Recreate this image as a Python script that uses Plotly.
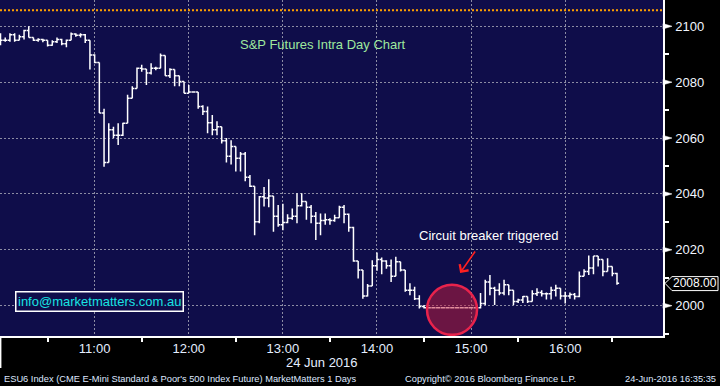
import plotly.graph_objects as go
import pandas as pd

# ---------------- data (3-minute bars, ESU6, 24 Jun 2016) ----------------
bar_start = "2016-06-24 10:00"
bar_count = 132
times = pd.date_range(bar_start, periods=bar_count, freq="3min")

opens = [
    2095.5, 2095.0, 2095.0, 2097.0, 2095.0, 2096.25, 2098.5, 2096.0, 2095.0, 2095.25,
    2095.0, 2093.25, 2094.5, 2095.25, 2093.75, 2095.0, 2097.25, 2096.75, 2097.0, 2095.0,
    2089.75, 2087.0, 2069.0, 2051.25, 2063.0, 2061.0, 2061.0, 2065.25, 2074.25, 2077.75,
    2085.0, 2084.75, 2083.25, 2085.0, 2085.0, 2089.5, 2082.25, 2084.5, 2082.25, 2080.25,
    2076.0, 2076.5, 2076.5, 2071.25, 2069.5, 2065.5, 2063.0, 2064.0, 2059.0, 2053.5,
    2057.0, 2052.75, 2054.25, 2046.0, 2042.75, 2030.0, 2039.0, 2038.5, 2039.25, 2032.0,
    2029.0, 2029.75, 2031.25, 2032.0, 2035.75, 2037.25, 2035.25, 2032.0, 2029.5, 2030.5,
    2030.75, 2030.5, 2031.5, 2035.25, 2032.75, 2028.0, 2016.0, 2012.75, 2003.5, 2007.0,
    2014.25, 2016.5, 2016.0, 2014.25, 2010.5, 2015.75, 2012.75, 2005.5, 2005.5, 2002.5,
    1999.75, 1999.25, 1999.25, 1999.25, 1999.25, 1999.25, 1999.25, 1999.25, 1999.25, 1999.25,
    1999.25, 1999.25, 1999.25, 2000.75, 2008.5, 2006.25, 2005.5, 2004.5, 2007.5, 2005.5,
    2001.5, 2002.0, 2003.25, 2001.5, 2004.25, 2004.75, 2004.25, 2004.25, 2005.5, 2006.25,
    2003.5, 2003.5, 2004.0, 2003.25, 2010.5, 2012.25, 2013.5, 2017.75, 2016.5, 2012.25,
    2014.0, 2011.5,
]
highs = [
    2097.5, 2096.0, 2097.5, 2097.5, 2097.0, 2098.75, 2100.0, 2096.0, 2095.75, 2095.5,
    2095.0, 2095.0, 2096.0, 2095.5, 2095.25, 2097.75, 2097.5, 2097.5, 2097.25, 2095.0,
    2090.0, 2087.0, 2070.5, 2065.25, 2064.0, 2065.25, 2065.5, 2075.5, 2078.5, 2085.25,
    2086.25, 2084.75, 2086.75, 2085.5, 2090.25, 2089.5, 2085.0, 2084.5, 2082.25, 2080.25,
    2079.0, 2076.75, 2076.5, 2071.75, 2071.25, 2068.25, 2066.0, 2064.0, 2060.0, 2059.25,
    2057.0, 2055.0, 2055.0, 2046.75, 2042.75, 2039.25, 2042.5, 2045.25, 2039.25, 2036.0,
    2036.5, 2032.75, 2034.75, 2040.25, 2040.25, 2037.25, 2036.0, 2033.5, 2033.0, 2033.0,
    2031.25, 2032.5, 2035.75, 2036.0, 2033.0, 2028.25, 2016.0, 2012.75, 2007.75, 2016.25,
    2019.0, 2017.25, 2016.25, 2016.5, 2017.5, 2015.75, 2012.75, 2008.0, 2006.75, 2003.75,
    2000.25, 1999.5, 1999.5, 1999.5, 1999.5, 1999.5, 1999.5, 1999.5, 1999.5, 1999.5,
    1999.5, 1999.5, 2004.5, 2009.25, 2011.0, 2006.75, 2008.0, 2009.25, 2007.5, 2005.5,
    2002.5, 2003.5, 2003.25, 2005.5, 2006.25, 2005.5, 2004.75, 2006.75, 2007.5, 2006.25,
    2005.0, 2004.75, 2004.5, 2012.25, 2013.0, 2018.0, 2017.75, 2017.75, 2016.5, 2017.0,
    2014.0, 2011.75,
]
lows = [
    2093.25, 2094.5, 2094.5, 2094.5, 2095.0, 2095.25, 2096.0, 2094.75, 2094.5, 2094.25,
    2092.75, 2093.0, 2094.0, 2093.25, 2092.5, 2095.0, 2096.25, 2096.0, 2094.0, 2084.5,
    2086.75, 2069.0, 2049.75, 2051.25, 2060.0, 2057.5, 2060.75, 2065.25, 2074.25, 2077.75,
    2083.75, 2079.0, 2082.75, 2084.25, 2085.0, 2082.25, 2081.5, 2078.5, 2078.5, 2076.0,
    2076.0, 2076.25, 2070.5, 2068.25, 2061.75, 2061.0, 2061.0, 2058.0, 2051.25, 2050.5,
    2048.0, 2048.0, 2044.5, 2042.5, 2025.25, 2029.5, 2035.5, 2035.25, 2026.5, 2028.25,
    2027.0, 2029.5, 2030.75, 2029.5, 2035.5, 2030.75, 2029.5, 2023.5, 2025.25, 2029.0,
    2029.0, 2030.0, 2031.5, 2029.5, 2026.5, 2015.75, 2009.75, 2002.5, 2003.25, 2007.0,
    2012.5, 2011.25, 2013.25, 2008.5, 2010.5, 2012.25, 2005.0, 2003.75, 2002.0, 1999.0,
    1999.0, 1999.0, 1999.0, 1999.0, 1999.0, 1999.0, 1999.0, 1999.0, 1999.0, 1999.0,
    1999.0, 1999.0, 1999.0, 2000.25, 2003.75, 2000.25, 2003.75, 2003.75, 2003.75, 2000.25,
    2001.0, 2001.0, 2001.0, 2001.5, 2003.5, 2003.25, 2002.25, 2002.25, 2003.25, 2002.25,
    2000.75, 2002.5, 2002.25, 2003.0, 2010.5, 2011.0, 2011.25, 2014.0, 2010.5, 2012.25,
    2010.5, 2007.5,
]
closes = [
    2095.0, 2095.0, 2097.0, 2095.0, 2096.25, 2098.5, 2096.0, 2095.0, 2095.25, 2095.0,
    2093.25, 2094.5, 2095.25, 2093.75, 2095.0, 2097.25, 2096.75, 2097.0, 2095.0, 2089.75,
    2087.0, 2069.0, 2051.25, 2063.0, 2061.0, 2061.0, 2065.25, 2074.25, 2077.75, 2085.0,
    2084.75, 2083.25, 2085.0, 2085.0, 2089.5, 2082.25, 2084.5, 2082.25, 2080.25, 2076.0,
    2076.5, 2076.5, 2071.25, 2069.5, 2065.5, 2063.0, 2064.0, 2059.0, 2053.5, 2057.0,
    2052.75, 2054.25, 2046.0, 2042.75, 2030.0, 2039.0, 2038.5, 2039.25, 2032.0, 2029.0,
    2029.75, 2031.25, 2032.0, 2035.75, 2037.25, 2035.25, 2032.0, 2029.5, 2030.5, 2030.75,
    2030.5, 2031.5, 2035.25, 2032.75, 2028.0, 2016.0, 2012.75, 2003.5, 2007.0, 2014.25,
    2016.5, 2016.0, 2014.25, 2010.5, 2015.75, 2012.75, 2005.5, 2005.5, 2002.5, 1999.75,
    1999.25, 1999.25, 1999.25, 1999.25, 1999.25, 1999.25, 1999.25, 1999.25, 1999.25, 1999.25,
    1999.25, 1999.25, 2000.75, 2008.5, 2006.25, 2005.5, 2004.5, 2007.5, 2005.5, 2001.5,
    2002.0, 2003.25, 2001.5, 2004.25, 2004.75, 2004.25, 2004.25, 2005.5, 2006.25, 2003.5,
    2003.5, 2004.0, 2003.25, 2010.5, 2012.25, 2013.5, 2017.75, 2016.5, 2012.25, 2014.0,
    2011.5, 2008.0,
]

y_ticks = [2000, 2020, 2040, 2060, 2080, 2100]
y_minor_ticks = [1990, 2010, 2030, 2050, 2070, 2090]
x_ticks = ["2016-06-24 10:00", "2016-06-24 11:00", "2016-06-24 12:00", "2016-06-24 13:00",
           "2016-06-24 14:00", "2016-06-24 15:00", "2016-06-24 16:00"]
x_ticktext = ["", "11:00", "12:00", "13:00", "14:00", "15:00", "16:00"]
x_minor_ticks = ["2016-06-24 10:30", "2016-06-24 11:30", "2016-06-24 12:30", "2016-06-24 13:30",
                 "2016-06-24 14:30", "2016-06-24 15:30", "2016-06-24 16:30"]
x_range = ["2016-06-24 09:59:40", "2016-06-24 17:02:20"]
y_range = [1989.15, 2109.4]

reference_level = 2105.75          # orange dotted line
last_price = 2008.00
breaker_time = "2016-06-24 14:47:50"
breaker_level = 1998.5
arrow_tip_time = "2016-06-24 14:53"
arrow_tip_level = 2011.7

# ---------------- styling ----------------
NAVY = "#0f0d4a"
GRID = "#8c8ca4"
FONT = "Liberation Sans, Arial, sans-serif"
FOOT = dict(family=FONT, size=9.3, color="#dfe8ff")

fig = go.Figure()
fig.add_trace(go.Ohlc(
    x=times, open=opens, high=highs, low=lows, close=closes,
    increasing=dict(line=dict(color="white", width=1.5)),
    decreasing=dict(line=dict(color="white", width=1.5)),
    tickwidth=0.45, hoverinfo="skip", showlegend=False,
))

shapes = []
shapes.append(dict(type="line", xref="paper", x0=0, x1=1, yref="y",
                   y0=reference_level, y1=reference_level,
                   line=dict(color="#ffa000", width=2, dash="2px,2px"), layer="above"))
for v in y_ticks:
    shapes.append(dict(type="path", xref="paper", yref="y",
                       path=f"M 1.0,{v - 0.95} L 1.0136,{v} L 1.0,{v + 0.95} Z",
                       fillcolor="white", line=dict(color="white", width=0.5), layer="above"))
shapes.append(dict(type="path", xref="paper", yref="y",
                   path=(f"M 1.003,{last_price} L 1.0136,{last_price + 2.4} L 1.083,{last_price + 2.4} "
                         f"L 1.083,{last_price - 2.6} L 1.0136,{last_price - 2.6} Z"),
                   fillcolor="black", line=dict(color="white", width=1), layer="above"))
shapes.append(dict(type="line", xref="paper", yref="paper", x0=0.001, x1=0.001, y0=0, y1=-0.095,
                   line=dict(color="white", width=1.5)))
shapes.append(dict(type="circle", xref="x", yref="y", xsizemode="pixel", ysizemode="pixel",
                   xanchor=breaker_time, yanchor=breaker_level,
                   x0=-25, x1=25, y0=-25, y1=25,
                   fillcolor="rgba(200,30,60,0.5)", line=dict(color="#e8234c", width=2.5),
                   layer="above"))

annotations = [
    dict(text="S&P Futures Intra Day Chart", xref="paper", yref="paper", x=0.487, y=0.869,
         showarrow=False, font=dict(family=FONT, size=13, color="#9ee89e"),
         xanchor="center", yanchor="middle"),
    dict(text="info@marketmatters.com.au", xref="paper", yref="paper", x=0.1498, y=0.1033,
         showarrow=False, font=dict(family=FONT, size=13, color="#19e3e3"),
         bordercolor="white", borderwidth=1.5, borderpad=1.5, bgcolor=NAVY,
         xanchor="center", yanchor="middle"),
    dict(text="Circuit breaker triggered", xref="paper", yref="paper", x=488 / 663, y=1 - 235 / 336,
         showarrow=False, font=dict(family=FONT, size=13, color="white"),
         xanchor="center", yanchor="middle"),
    dict(text="", x=arrow_tip_time, y=arrow_tip_level, xref="x", yref="y",
         showarrow=True, ax=16, ay=-23, arrowhead=4, arrowsize=1.3, arrowwidth=1.6,
         arrowcolor="#ff2020"),
    dict(text=f"{last_price:.2f}", xref="paper", yref="y", x=1.0483, y=last_price,
         showarrow=False, font=dict(family=FONT, size=12, color="white"),
         xanchor="center", yanchor="middle"),
    dict(text="24 Jun 2016", xref="paper", yref="paper", x=0.4857, y=-0.0774,
         showarrow=False, font=dict(family=FONT, size=13, color="#e4eeff"),
         xanchor="center", yanchor="middle"),
    dict(text="ESU6 Index (CME E-Mini Standard &amp; Poor's 500 Index Future) MarketMatters 1 Days",
         xref="paper", yref="paper", x=0.003, y=-0.128, showarrow=False, font=FOOT,
         xanchor="left", yanchor="middle"),
    dict(text="Copyright© 2016 Bloomberg Finance L.P.", xref="paper", yref="paper",
         x=0.6078, y=-0.128, showarrow=False, font=FOOT, xanchor="left", yanchor="middle"),
    dict(text="24-Jun-2016 16:35:35", xref="paper", yref="paper", x=1.083, y=-0.128,
         showarrow=False, font=FOOT, xanchor="right", yanchor="middle"),
]

fig.update_layout(
    width=720, height=386,
    margin=dict(l=0, r=57, t=0, b=50, autoexpand=False),
    paper_bgcolor="black", plot_bgcolor=NAVY,
    showlegend=False,
    shapes=shapes, annotations=annotations,
    xaxis=dict(
        type="date", range=x_range, rangeslider=dict(visible=False), automargin=False,
        tickmode="array", tickvals=x_ticks, ticktext=x_ticktext,
        ticks="", showgrid=True, gridcolor=GRID, gridwidth=1, griddash="2px,2px",
        showline=True, linecolor="white", linewidth=1.5, zeroline=False,
        tickfont=dict(family=FONT, size=13, color="#e4eeff"),
        ticklabelstandoff=0,
        minor=dict(tickmode="array", tickvals=x_minor_ticks, ticks="outside", ticklen=4,
                   tickcolor="white", tickwidth=1.5, showgrid=False),
    ),
    yaxis=dict(
        side="right", range=y_range, tickmode="array", tickvals=y_ticks, automargin=False,
        ticks="", showgrid=True, gridcolor=GRID, gridwidth=1, griddash="2px,2px",
        showline=True, linecolor="white", linewidth=1.5, zeroline=False,
        tickfont=dict(family=FONT, size=13, color="#f2f6ff"),
        ticklabelstandoff=8,
        minor=dict(tickmode="array", tickvals=y_minor_ticks, ticks="outside", ticklen=4,
                   tickcolor="white", tickwidth=1.5, showgrid=False),
    ),
)

fig.write_html("out.html", config={"displayModeBar": False},
               post_script="document.body.style.margin='0';document.body.style.background='black';")
